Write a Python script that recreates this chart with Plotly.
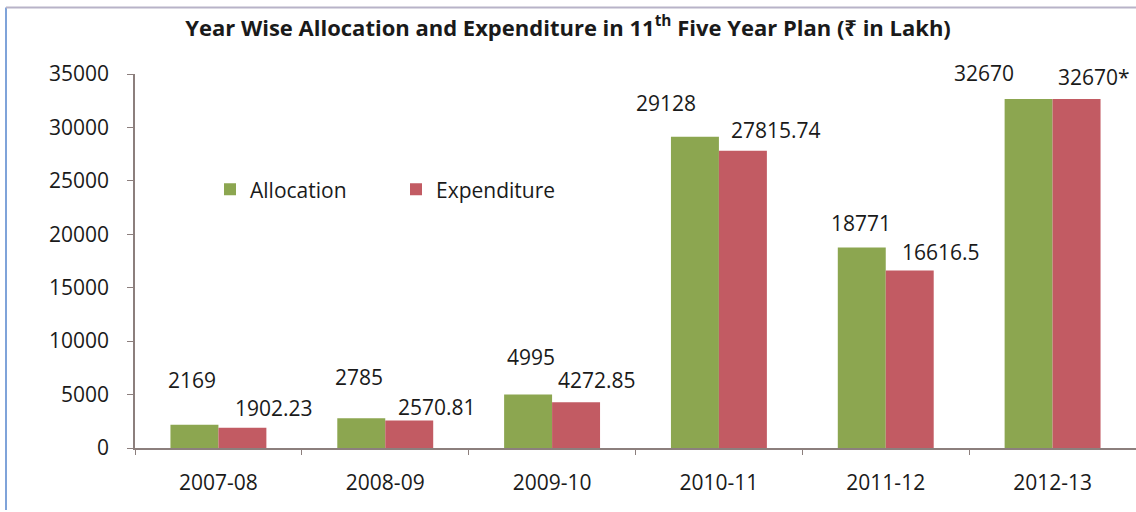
import plotly.graph_objects as go

# ---- data ----
years = ["2007-08", "2008-09", "2009-10", "2010-11", "2011-12", "2012-13"]
allocation = [2169, 2785, 4995, 29128, 18771, 32670]
expenditure = [1902.23, 2570.81, 4272.85, 27815.74, 16616.5, 32670]
allocation_labels = ["2169", "2785", "4995", "29128", "18771", "32670"]
expenditure_labels = ["1902.23", "2570.81", "4272.85", "27815.74", "16616.5", "32670*"]
y_ticks = [0, 5000, 10000, 15000, 20000, 25000, 30000, 35000]
y_tick_text = ["0", "5000", "10000", "15000", "20000", "25000", "30000", "35000"]

# ---- styling (label nudges in pixels, as placed by hand in the original) ----
alloc_dx = [-26.5, -26.5, -21.5, -52.5, -24.5, -68.5]
alloc_dy = [45, 41, 38, 34, 24.5, 26]
exp_dx = [55.5, 51.5, 44.5, 57.5, 55.5, 41.5]
exp_dy = [20, 13.5, 22, 21, 18.5, 22]

GREEN = "#8CA650"
RED = "#C25B63"
AXIS = "#8C7F7D"
TXT = "#1A1A1A"
FONT = "Open Sans, Noto Sans, DejaVu Sans"

fig = go.Figure()
fig.add_trace(go.Bar(x=years, y=allocation, name="Allocation",
                     marker=dict(color=GREEN, line=dict(width=0))))
fig.add_trace(go.Bar(x=years, y=expenditure, name="Expenditure",
                     marker=dict(color=RED, line=dict(width=0))))

annotations = []
for yr, v, t, dx, dy in zip(years, allocation, allocation_labels, alloc_dx, alloc_dy):
    annotations.append(dict(x=yr, y=v, xref="x", yref="y", text=t, showarrow=False,
                            xanchor="center", yanchor="middle", xshift=dx, yshift=dy,
                            font=dict(family=FONT, size=21, color=TXT)))
for yr, v, t, dx, dy in zip(years, expenditure, expenditure_labels, exp_dx, exp_dy):
    annotations.append(dict(x=yr, y=v, xref="x", yref="y", text=t, showarrow=False,
                            xanchor="center", yanchor="middle", xshift=dx, yshift=dy,
                            font=dict(family=FONT, size=21, color=TXT)))

# frame lines (left blue, top grey) in paper coords
L, R, T, B = 135, 1136, 74.4, 448
def px_x(p):
    return (p - L) / (R - L)
def px_y(p):
    return (B - p) / (B - T)

shapes = [
    dict(type="line", xref="paper", yref="paper", x0=px_x(6), x1=px_x(6),
         y0=px_y(8), y1=px_y(510), line=dict(color="#7FA3D9", width=2)),
    dict(type="line", xref="paper", yref="paper", x0=px_x(6), x1=px_x(1136),
         y0=px_y(8), y1=px_y(8), line=dict(color="#B8B3C8", width=2)),
]

fig.update_layout(
    width=1136, height=512,
    margin=dict(l=L, r=1136 - R, t=T, b=512 - B),
    paper_bgcolor="white", plot_bgcolor="white",
    barmode="group", bargap=0.425, bargroupgap=0,
    title=dict(text="Year Wise Allocation and Expenditure in 11<sup>th</sup> Five Year Plan (₹ in Lakh)",
               x=0.5, xanchor="center", y=1 - 28 / 512, yanchor="middle",
               font=dict(family=FONT, size=22, color=TXT, weight="bold")),
    legend=dict(orientation="h", x=px_x(210), y=px_y(190), xanchor="left", yanchor="middle",
                font=dict(family=FONT, size=21, color=TXT), bgcolor="rgba(0,0,0,0)",
                entrywidth=141, entrywidthmode="pixels", traceorder="normal"),
    annotations=annotations,
    shapes=shapes,
    font=dict(family=FONT, color=TXT),
)
fig.update_xaxes(type="category", showline=True, linecolor=AXIS, linewidth=1.5,
                 ticks="outside", tickson="boundaries", ticklen=5, tickcolor=AXIS,
                 showgrid=False, tickfont=dict(family=FONT, size=21, color=TXT),
                 ticklabelstandoff=15)
fig.update_yaxes(range=[0, 35000], tickvals=y_ticks, ticktext=y_tick_text, showline=True,
                 linecolor=AXIS, linewidth=1.5, ticks="outside", ticklen=6, tickcolor=AXIS,
                 showgrid=False, zeroline=False,
                 tickfont=dict(family=FONT, size=21, color=TXT), ticklabelstandoff=14)

fig.write_html("out.html", config={"displayModeBar": False},
               post_script="document.body.style.margin='0';document.body.style.overflow='hidden';")
